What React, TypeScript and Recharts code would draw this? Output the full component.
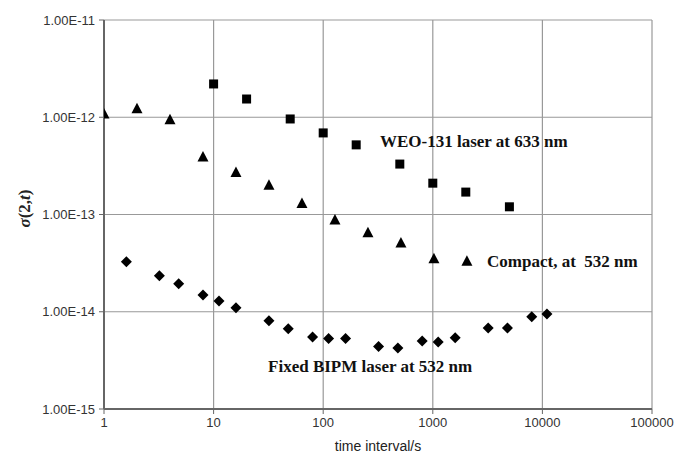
import React from 'react';
import { ScatterChart, Scatter, XAxis, YAxis, CartesianGrid, ReferenceDot } from 'recharts';

// time intervals (s) and Allan deviations
const weoTimes = [10, 20, 50, 100, 200, 500, 1000, 2000, 5000];
const weoSigma = [2.2e-12, 1.54e-12, 9.6e-13, 6.9e-13, 5.2e-13, 3.3e-13, 2.1e-13, 1.7e-13, 1.2e-13];

const compactTimes = [1, 2, 4, 8, 16, 32, 64, 128, 256, 512, 1024, 2048];
const compactSigma = [1.08e-12, 1.22e-12, 9.4e-13, 3.9e-13, 2.7e-13, 2.0e-13, 1.3e-13, 8.8e-14, 6.5e-14, 5.1e-14, 3.5e-14, 3.3e-14];

const bipmTimes = [1.6, 3.2, 4.8, 8, 11.2, 16, 32, 48, 80, 112, 160, 320, 480, 800, 1120, 1600, 3200, 4800, 8000, 11000];
const bipmSigma = [3.26e-14, 2.34e-14, 1.94e-14, 1.49e-14, 1.29e-14, 1.1e-14, 8.1e-15, 6.7e-15, 5.5e-15, 5.3e-15, 5.3e-15, 4.4e-15, 4.25e-15, 5.0e-15, 4.9e-15, 5.4e-15, 6.8e-15, 6.8e-15, 8.9e-15, 9.5e-15];

const xTicks = [1, 10, 100, 1000, 10000, 100000];
const yTicks = [1e-15, 1e-14, 1e-13, 1e-12, 1e-11];

const toPoints = (xs: number[], ys: number[]) => xs.map((t, i) => ({ t, s: ys[i] }));

const weoData = toPoints(weoTimes, weoSigma);
const compactData = toPoints(compactTimes, compactSigma);
const bipmData = toPoints(bipmTimes, bipmSigma);

const Square = (props: any) => (
    <rect x={props.cx - 4.5} y={props.cy - 4.5} width={9} height={9} fill="#000" />
);

const Triangle = (props: any) => {
    const { cx, cy } = props;
    return <polygon points={`${cx},${cy - 6} ${cx - 5.5},${cy + 4.5} ${cx + 5.5},${cy + 4.5}`} fill="#000" />;
};

const Diamond = (props: any) => {
    const { cx, cy } = props;
    return <polygon points={`${cx},${cy - 5.5} ${cx + 5.5},${cy} ${cx},${cy + 5.5} ${cx - 5.5},${cy}`} fill="#000" />;
};

const seriesLabel = (text: string) => (props: any) => {
    const { viewBox } = props;
    return (
        <text
            x={viewBox.x}
            y={viewBox.y}
            dy="0.35em"
            textAnchor="start"
            fontFamily="'Liberation Serif', 'Times New Roman', serif"
            fontWeight="bold"
            fontSize={17}
            fill="#111"
        >
            {text}
        </text>
    );
};

const fmt = (v: number) => v.toExponential(2).toUpperCase();

const App: React.FC = () => {
    const axisFont = { fontFamily: "'Liberation Sans', Arial, sans-serif", fontSize: 13, fill: '#333' };

    return (
        <div style={{ position: 'absolute', left: 0, top: 0, width: 675, height: 454, background: '#fff' }}>
            <ScatterChart width={675} height={454} margin={{ top: 20, right: 23, left: 0, bottom: 0 }}>
                <CartesianGrid stroke="#999" strokeWidth={1.2} />
                <XAxis
                    dataKey="t"
                    type="number"
                    scale="log"
                    domain={[1, 100000]}
                    ticks={xTicks}
                    allowDataOverflow
                    height={45}
                    tick={axisFont}
                    tickLine={{ stroke: '#666' }}
                    axisLine={{ stroke: '#666', strokeWidth: 2 }}
                    tickSize={5}
                    tickMargin={4}
                    label={{
                        value: 'time interval/s',
                        position: 'insideBottom',
                        offset: 3,
                        style: { fontFamily: "'Liberation Sans', Arial, sans-serif", fontSize: 14, fill: '#222' },
                    }}
                />
                <YAxis
                    dataKey="s"
                    type="number"
                    scale="log"
                    domain={[1e-15, 1e-11]}
                    ticks={yTicks}
                    allowDataOverflow
                    width={104}
                    tick={axisFont}
                    tickFormatter={fmt}
                    tickLine={{ stroke: '#666' }}
                    axisLine={{ stroke: '#666', strokeWidth: 2 }}
                    tickSize={5}
                    tickMargin={4}
                    label={{
                        content: (p: any) => (
                            <text
                                x={0}
                                y={0}
                                transform={`translate(30, ${p.viewBox.y + p.viewBox.height / 2 - 6}) rotate(-90)`}
                                textAnchor="middle"
                                fontFamily="'Liberation Serif', 'Times New Roman', serif"
                                fontWeight="bold"
                                fontSize={17}
                                fill="#222"
                            >
                                <tspan fontStyle="italic">σ</tspan>
                                <tspan>(2,</tspan>
                                <tspan fontStyle="italic">t</tspan>
                                <tspan>)</tspan>
                            </text>
                        ),
                    }}
                />
                <Scatter name="WEO-131 laser at 633 nm" data={weoData} shape={Square} isAnimationActive={false} />
                <Scatter name="Compact, at 532 nm" data={compactData} shape={Triangle} isAnimationActive={false} />
                <Scatter name="Fixed BIPM laser at 532 nm" data={bipmData} shape={Diamond} isAnimationActive={false} />
                <ReferenceDot x={330} y={5.7e-13} r={0} stroke="none" label={{ content: seriesLabel('WEO-131 laser at 633 nm') }} />
                <ReferenceDot x={3125} y={3.3e-14} r={0} stroke="none" label={{ content: seriesLabel('Compact, at\u00a0 532 nm') }} />
                <ReferenceDot x={31.4} y={2.78e-15} r={0} stroke="none" label={{ content: seriesLabel('Fixed BIPM laser at 532 nm') }} />
            </ScatterChart>
        </div>
    );
};

export default App;
